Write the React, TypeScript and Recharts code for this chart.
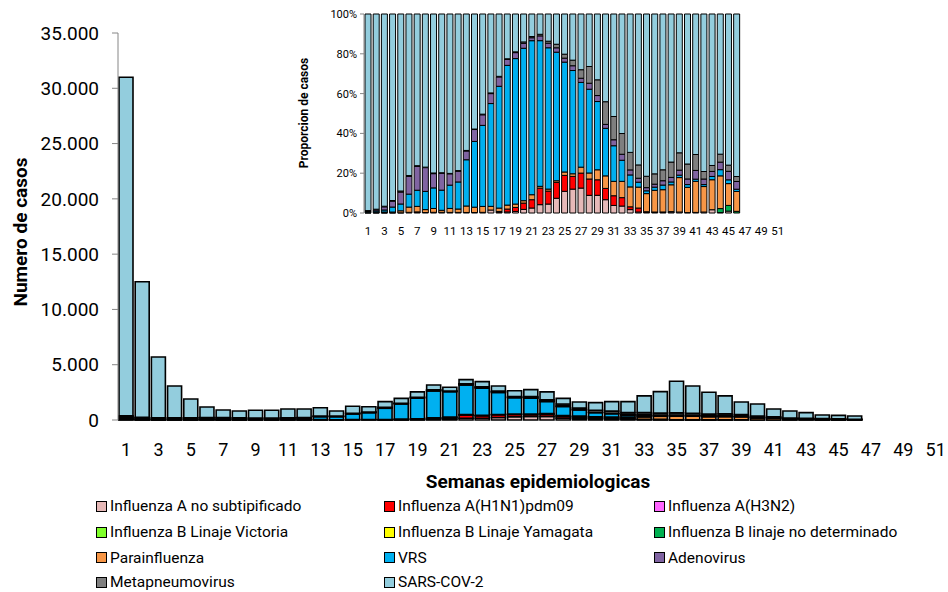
import { Bar, BarChart, XAxis, YAxis } from "recharts"

// epidemiological weeks shown on both axes
const WEEKS = Array.from({ length: 52 }, (_, i) => i + 1)

// weekly case counts, weeks 1-46 (later weeks have no data yet)
const INF_A_NS = [31, 13, 6, 3, 2, 4, 3, 2, 3, 3, 3, 3, 3, 2, 4, 18, 5, 10, 20, 57, 74, 153, 156, 228, 289, 330, 318, 174, 145, 105, 63, 58, 37, 13, 11, 9, 8, 11, 8, 3, 3, 4, 11, 1, 4, 0]
const INF_H1N1 = [31, 13, 6, 0, 0, 0, 2, 0, 0, 0, 0, 0, 0, 0, 0, 0, 8, 29, 51, 101, 124, 303, 226, 246, 212, 176, 191, 161, 127, 89, 81, 70, 31, 51, 11, 6, 5, 4, 0, 0, 0, 0, 0, 0, 0, 0]
const INF_H3N2: number[] = []
const INF_B_VIC: number[] = []
const INF_B_YAM: number[] = []
const INF_B_ND = [0, 0, 0, 0, 0, 0, 0, 0, 0, 0, 0, 0, 0, 0, 0, 0, 0, 0, 0, 0, 0, 0, 0, 0, 0, 0, 0, 0, 0, 0, 0, 0, 0, 0, 0, 0, 0, 0, 0, 0, 0, 0, 0, 9, 12, 3]
const PARAINF = [62, 25, 17, 12, 19, 31, 25, 12, 17, 9, 20, 17, 36, 22, 37, 22, 28, 39, 43, 38, 74, 33, 35, 25, 45, 36, 76, 59, 82, 99, 120, 136, 218, 270, 319, 336, 281, 294, 282, 184, 156, 105, 101, 74, 46, 36]
const VRS = [93, 75, 57, 77, 65, 77, 73, 75, 91, 89, 117, 136, 258, 271, 505, 620, 1016, 1376, 1857, 2428, 2291, 2672, 2464, 1990, 1463, 1427, 1082, 825, 559, 375, 297, 176, 131, 64, 49, 49, 58, 31, 20, 20, 11, 8, 11, 14, 8, 4]
const ADENO = [93, 75, 91, 92, 114, 105, 108, 98, 63, 75, 57, 54, 49, 49, 66, 60, 78, 59, 76, 79, 44, 88, 80, 68, 53, 66, 53, 59, 49, 31, 50, 50, 55, 51, 56, 46, 55, 50, 41, 41, 44, 23, 17, 17, 18, 14]
const METAPNEUMO = [62, 38, 17, 9, 10, 5, 3, 2, 3, 2, 2, 3, 3, 2, 4, 4, 5, 6, 10, 22, 18, 29, 35, 55, 53, 77, 109, 165, 129, 179, 194, 173, 192, 172, 200, 160, 138, 168, 142, 109, 80, 31, 20, 18, 13, 9]
const SARS_COV2 = [30628, 12261, 5506, 2887, 1690, 958, 686, 631, 703, 702, 801, 787, 761, 474, 624, 476, 520, 441, 483, 445, 335, 372, 474, 468, 535, 638, 711, 517, 539, 692, 855, 997, 1516, 1949, 2854, 2474, 1965, 1622, 1137, 1093, 706, 649, 510, 317, 319, 294]

const CASE_TICKS = [0, 5000, 10000, 15000, 20000, 25000, 30000, 35000]
const SHARE_TICKS = [0, 0.2, 0.4, 0.6, 0.8, 1]

const SERIES = [
  { key: "infANs", name: "Influenza A no subtipificado", color: "#E6B9B8", values: INF_A_NS },
  { key: "h1n1", name: "Influenza A(H1N1)pdm09", color: "#FF0000", values: INF_H1N1 },
  { key: "h3n2", name: "Influenza A(H3N2)", color: "#FF66FF", values: INF_H3N2 },
  { key: "bVic", name: "Influenza B Linaje Victoria", color: "#7FFF2A", values: INF_B_VIC },
  { key: "bYam", name: "Influenza B Linaje Yamagata", color: "#FFFF00", values: INF_B_YAM },
  { key: "bNd", name: "Influenza B linaje no determinado", color: "#00B050", values: INF_B_ND },
  { key: "para", name: "Parainfluenza", color: "#F79646", values: PARAINF },
  { key: "vrs", name: "VRS", color: "#00B0F0", values: VRS },
  { key: "adeno", name: "Adenovirus", color: "#8064A2", values: ADENO },
  { key: "meta", name: "Metapneumovirus", color: "#7F7F7F", values: METAPNEUMO },
  { key: "sars", name: "SARS-COV-2", color: "#93CDDD", values: SARS_COV2 },
]

const rows = WEEKS.map((week, i) => {
  const row: Record<string, number | string> = { week: String(week), edge: i + 0.5 }
  for (const s of SERIES) row[s.key] = s.values[i] ?? 0
  return row
})

// band edges, so tick marks sit between the weeks like the original
const EDGES = Array.from({ length: WEEKS.length + 1 }, (_, i) => i)

const FONT = "Roboto, 'Liberation Sans', Arial, sans-serif"
const AXIS_GRAY = "#868686"

const thousands = (v: number) =>
  String(v).replace(/\B(?=(\d{3})+(?!\d))/g, ".")
const percent = (v: number) => `${Math.round(v * 100)}%`

function CasesChart() {
  return (
    <BarChart
      width={962}
      height={460}
      data={rows}
      margin={{ top: 33, right: 2, bottom: 0, left: 0 }}
      barCategoryGap={1}
      style={{ fontFamily: FONT }}
    >
      <XAxis
        xAxisId="edges"
        type="number"
        dataKey="edge"
        domain={[0, WEEKS.length]}
        ticks={EDGES}
        tickFormatter={() => ""}
        height={0}
        stroke={AXIS_GRAY}
        tickSize={6}
        allowDataOverflow
      />
      <XAxis
        xAxisId="weeks"
        dataKey="week"
        interval={1}
        axisLine={false}
        tickLine={false}
        tickSize={6}
        tickMargin={17}
        height={40}
        tick={{ fontSize: 18, fill: "#000" }}
      />
      <YAxis
        domain={[0, 35000]}
        ticks={CASE_TICKS}
        width={118}
        tickFormatter={thousands}
        stroke={AXIS_GRAY}
        tickSize={6}
        tickMargin={13}
        tick={{ fontSize: 19, fill: "#000" }}
      />
      {SERIES.map((s) => (
        <Bar
          key={s.key}
          xAxisId="weeks"
          dataKey={s.key}
          name={s.name}
          stackId="cases"
          fill={s.color}
          stroke="#000"
          strokeWidth={1.6}
          isAnimationActive={false}
        />
      ))}
    </BarChart>
  )
}

function ShareChart() {
  return (
    <BarChart
      width={512}
      height={245}
      data={rows}
      stackOffset="expand"
      margin={{ top: 14, right: 2, bottom: 0, left: 0 }}
      barCategoryGap={1}
      style={{ fontFamily: FONT }}
    >
      <XAxis
        xAxisId="edges"
        type="number"
        dataKey="edge"
        domain={[0, WEEKS.length]}
        ticks={EDGES}
        tickFormatter={() => ""}
        height={0}
        stroke={AXIS_GRAY}
        tickSize={4}
        allowDataOverflow
      />
      <XAxis
        xAxisId="weeks"
        dataKey="week"
        interval={1}
        axisLine={false}
        tickLine={false}
        tickSize={4}
        tickMargin={10}
        height={32}
        tick={{ fontSize: 11.5, fill: "#000" }}
      />
      <YAxis
        domain={[0, 1]}
        ticks={SHARE_TICKS}
        width={84}
        tickFormatter={percent}
        stroke={AXIS_GRAY}
        tickSize={4}
        tickMargin={3}
        tick={{ fontSize: 11, fill: "#000" }}
      />
      {SERIES.map((s) => (
        <Bar
          key={s.key}
          xAxisId="weeks"
          dataKey={s.key}
          name={s.name}
          stackId="share"
          fill={s.color}
          stroke="#000"
          strokeWidth={1}
          isAnimationActive={false}
        />
      ))}
    </BarChart>
  )
}

const LEGEND_COLS = [96, 384, 654]
const LEGEND_ROWS = [506, 532, 557.5, 582]

function LegendBlock() {
  return (
    <>
      {SERIES.map((s, i) => (
        <div
          key={s.key}
          style={{
            position: "absolute",
            left: LEGEND_COLS[i % 3],
            top: LEGEND_ROWS[Math.floor(i / 3)],
            transform: "translateY(-50%)",
            display: "flex",
            alignItems: "center",
            whiteSpace: "nowrap",
            fontSize: 15.5,
            lineHeight: "18px",
            color: "#000",
          }}
        >
          <span
            style={{
              width: 9,
              height: 9,
              border: "1px solid #000",
              background: s.color,
              marginRight: 3,
              display: "inline-block",
            }}
          />
          {s.name}
        </div>
      ))}
    </>
  )
}

const titleStyle = {
  position: "absolute" as const,
  fontWeight: 700,
  whiteSpace: "nowrap" as const,
  color: "#000",
}

export default function App() {
  return (
    <div
      style={{
        position: "absolute",
        left: 0,
        top: 0,
        width: 948,
        height: 592,
        overflow: "hidden",
        background: "#fff",
        fontFamily: FONT,
      }}
    >
      <div style={{ position: "absolute", left: 0, top: 0 }}>
        <CasesChart />
      </div>
      <div style={{ position: "absolute", left: 280, top: 0 }}>
        <ShareChart />
      </div>
      <div
        style={{
          ...titleStyle,
          left: 20,
          top: 232,
          fontSize: 19,
          transform: "translate(-50%, -50%) rotate(-90deg)",
        }}
      >
        Numero de casos
      </div>
      <div
        style={{
          ...titleStyle,
          left: 538,
          top: 481,
          fontSize: 19,
          transform: "translate(-50%, -50%)",
        }}
      >
        Semanas epidemiologicas
      </div>
      <div
        style={{
          ...titleStyle,
          left: 304,
          top: 113,
          fontSize: 12,
          transform: "translate(-50%, -50%) rotate(-90deg)",
        }}
      >
        Proporcion  de casos
      </div>
      <LegendBlock />
    </div>
  )
}
